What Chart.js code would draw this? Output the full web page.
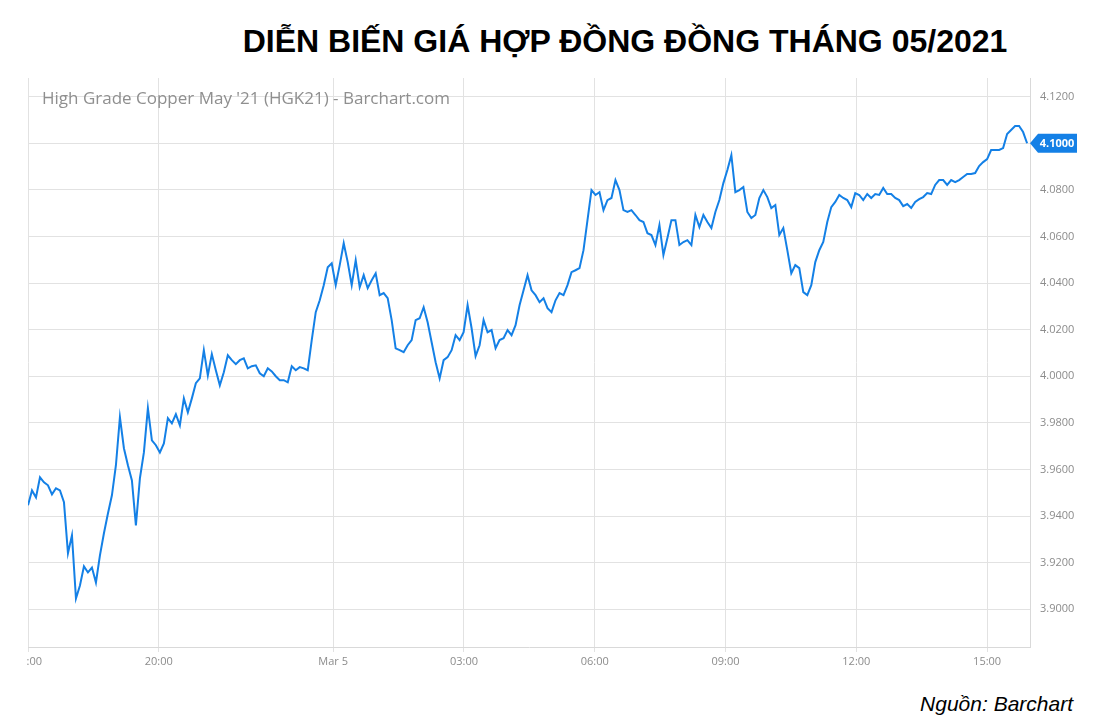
<!DOCTYPE html>
<html>
<head>
<meta charset="utf-8">
<script src="https://cdn.jsdelivr.net/npm/chart.js@4.4.1/dist/chart.umd.min.js"></script>
<style>
    html, body { margin: 0; padding: 0; background: #fff; }
    body { width: 1104px; height: 720px; position: relative; overflow: hidden; }
    #title {
        position: absolute; left: 0; top: 25px; width: 1250px; text-align: center;
        font: bold 32px "Liberation Sans", Arial, sans-serif; line-height: 32px; color: #000;
        white-space: nowrap;
    }
    #source {
        position: absolute; right: 31px; top: 693px;
        font: italic 21px "Liberation Sans", Arial, sans-serif; line-height: 21px; color: #000;
    }
    #wrap { position: absolute; left: 27px; top: 70px; width: 1077px; height: 600px; }
</style>
</head>
<body>
<div id="title">DIỄN BIẾN GIÁ HỢP ĐỒNG ĐỒNG THÁNG 05/2021</div>
<div id="wrap"><canvas id="chart"></canvas></div>
<div id="source">Nguồn: Barchart</div>
<script>
// Giá HGK21, một điểm đọc mỗi 5.5 phút kể từ 17:00 (04/03)
const stepMinutes = 5.5;
const prices = [
    3.9446, 3.9510, 3.9480, 3.9566, 3.9545, 3.9532, 3.9493, 3.9519, 3.9510, 3.9459,
    3.9240, 3.9317, 3.9046, 3.9102, 3.9184, 3.9158, 3.9179, 3.9115, 3.9231, 3.9326,
    3.9411, 3.9489, 3.9618, 3.9824, 3.9691, 3.9618, 3.9553, 3.9360, 3.9562, 3.9673,
    3.9863, 3.9725, 3.9704, 3.9673, 3.9712, 3.9820, 3.9798, 3.9837, 3.9789, 3.9905,
    3.9845, 3.9905, 3.9970, 3.9991, 4.0112, 4.0004, 4.0095, 4.0026, 3.9961, 4.0017,
    4.0090, 4.0069, 4.0052, 4.0069, 4.0077, 4.0034, 4.0043, 4.0047, 4.0013, 4.0000,
    4.0034, 4.0021, 4.0000, 3.9983, 3.9983, 3.9974, 4.0043, 4.0026, 4.0039, 4.0034,
    4.0026, 4.0155, 4.0275, 4.0326, 4.0391, 4.0468, 4.0485, 4.0391, 4.0477, 4.0571,
    4.0490, 4.0391, 4.0498, 4.0382, 4.0434, 4.0378, 4.0412, 4.0442, 4.0348, 4.0357,
    4.0335, 4.0241, 4.0120, 4.0112, 4.0103, 4.0133, 4.0155, 4.0241, 4.0249, 4.0296,
    4.0232, 4.0146, 4.0060, 3.9991, 4.0069, 4.0082, 4.0112, 4.0176, 4.0155, 4.0189,
    4.0305, 4.0206, 4.0086, 4.0133, 4.0241, 4.0189, 4.0198, 4.0120, 4.0155, 4.0163,
    4.0198, 4.0176, 4.0219, 4.0305, 4.0369, 4.0434, 4.0369, 4.0348, 4.0318, 4.0335,
    4.0292, 4.0275, 4.0326, 4.0357, 4.0348, 4.0391, 4.0447, 4.0455, 4.0464, 4.0541,
    4.0670, 4.0799, 4.0778, 4.0790, 4.0713, 4.0756, 4.0765, 4.0842, 4.0799, 4.0713,
    4.0705, 4.0713, 4.0692, 4.0670, 4.0662, 4.0614, 4.0606, 4.0563, 4.0649, 4.0520,
    4.0593, 4.0670, 4.0670, 4.0563, 4.0576, 4.0584, 4.0563, 4.0692, 4.0640, 4.0692,
    4.0662, 4.0636, 4.0705, 4.0756, 4.0829, 4.0885, 4.0949, 4.0790, 4.0799, 4.0812,
    4.0705, 4.0679, 4.0692, 4.0765, 4.0799, 4.0769, 4.0722, 4.0735, 4.0606, 4.0636,
    4.0541, 4.0442, 4.0477, 4.0464, 4.0361, 4.0348, 4.0391, 4.0490, 4.0541, 4.0576,
    4.0662, 4.0726, 4.0748, 4.0778, 4.0765, 4.0756, 4.0726, 4.0786, 4.0778, 4.0756,
    4.0782, 4.0765, 4.0782, 4.0778, 4.0808, 4.0782, 4.0782, 4.0765, 4.0756, 4.0730,
    4.0739, 4.0722, 4.0748, 4.0760, 4.0769, 4.0786, 4.0782, 4.0821, 4.0842, 4.0842,
    4.0821, 4.0842, 4.0833, 4.0842, 4.0855, 4.0868, 4.0868, 4.0872, 4.0902, 4.0919,
    4.0932, 4.0971, 4.0971, 4.0971, 4.0979, 4.1040, 4.1057, 4.1074, 4.1074, 4.1048,
    4.1000
];
const lastPrice = 4.1000;

// Trục thời gian (phút tính từ 17:00)
const xTickMinutes = [0, 180, 420, 600, 780, 960, 1140, 1320];
const xTickLabels = ['17:00', '20:00', 'Mar 5', '03:00', '06:00', '09:00', '12:00', '15:00'];
const yTicks = [3.90, 3.92, 3.94, 3.96, 3.98, 4.00, 4.02, 4.04, 4.06, 4.08, 4.10, 4.12];

const lineColor = '#1480e6';
const gridColor = '#e2e2e2';
const labelColor = '#8c8c8c';

Chart.defaults.font.family = "'Open Sans', sans-serif";
Chart.defaults.font.size = 11;

const points = prices.map((p, i) => ({ x: i * stepMinutes, y: p }));

// Chữ mờ bên trong biểu đồ
const watermark = {
    id: 'watermark',
    beforeDatasetsDraw(chart) {
        const { ctx, chartArea } = chart;
        ctx.save();
        ctx.font = "17px 'Open Sans', sans-serif";
        ctx.fillStyle = '#8f8f8f';
        ctx.textBaseline = 'middle';
        ctx.fillText("High Grade Copper May '21 (HGK21) - Barchart.com", chartArea.left + 14, chartArea.top + 21);
        ctx.restore();
    }
};

// Nhãn giá cuối cùng trên trục phải
const lastPriceTag = {
    id: 'lastPriceTag',
    afterDraw(chart) {
        const { ctx, chartArea } = chart;
        const y = chart.scales.y.getPixelForValue(lastPrice);
        const x0 = chartArea.right;
        ctx.save();
        ctx.fillStyle = lineColor;
        ctx.beginPath();
        ctx.moveTo(x0, y);
        ctx.lineTo(x0 + 8, y - 9.5);
        ctx.lineTo(x0 + 47, y - 9.5);
        ctx.lineTo(x0 + 47, y + 9.5);
        ctx.lineTo(x0 + 8, y + 9.5);
        ctx.closePath();
        ctx.fill();
        ctx.fillStyle = '#fff';
        ctx.font = "bold 11px 'Open Sans', sans-serif";
        ctx.textAlign = 'center';
        ctx.textBaseline = 'middle';
        ctx.fillText(lastPrice.toFixed(4), x0 + 27, y + 0.5);
        ctx.restore();
    }
};

const ctx = document.getElementById('chart').getContext('2d');
new Chart(ctx, {
    type: 'line',
    data: {
        datasets: [{
            data: points,
            borderColor: lineColor,
            borderWidth: 2,
            pointRadius: 0,
            tension: 0,
            fill: false
        }]
    },
    options: {
        responsive: true,
        maintainAspectRatio: false,
        animation: false,
        layout: { padding: { top: 8, left: 1, right: 0, bottom: 0 } },
        plugins: {
            legend: { display: false },
            tooltip: { enabled: false }
        },
        scales: {
            x: {
                type: 'linear',
                min: 0,
                max: 1379,
                afterBuildTicks: (scale) => {
                    scale.ticks = xTickMinutes.map(v => ({ value: v }));
                },
                afterFit: (scale) => {
                    scale.height = 23;
                    scale.paddingLeft = 0;
                    scale.paddingRight = 0;
                },
                grid: { color: gridColor, tickLength: 5, drawTicks: true },
                border: { color: '#d9d9d9' },
                ticks: {
                    color: labelColor,
                    padding: 3,
                    maxRotation: 0,
                    autoSkip: false,
                    callback: (value, index) => xTickLabels[index]
                }
            },
            y: {
                position: 'right',
                min: 3.8838,
                max: 4.128,
                afterBuildTicks: (scale) => {
                    scale.ticks = yTicks.map(v => ({ value: v }));
                },
                afterFit: (scale) => {
                    scale.width = 74;
                    scale.paddingTop = 0;
                    scale.paddingBottom = 0;
                },
                grid: { color: gridColor, drawTicks: false },
                border: { color: '#d9d9d9' },
                ticks: {
                    color: labelColor,
                    padding: 10,
                    callback: (value) => Number(value).toFixed(4)
                }
            }
        }
    },
    plugins: [watermark, lastPriceTag]
});
</script>
</body>
</html>
